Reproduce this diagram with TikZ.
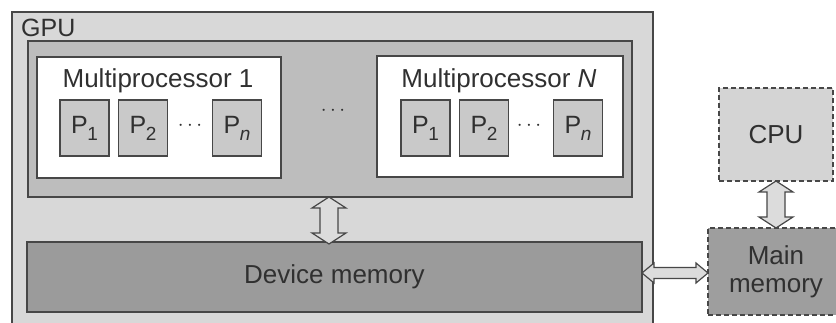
\documentclass[tikz,border=0pt]{standalone}
\usepackage{fontspec}
\setmainfont{Liberation Sans}
\usetikzlibrary{calc}
\definecolor{edge}{HTML}{474747}
\definecolor{txt}{HTML}{303030}
\definecolor{gpubg}{HTML}{D8D8D8}
\definecolor{mpabg}{HTML}{BDBDBD}
\definecolor{pbg}{HTML}{C9C9C9}
\definecolor{devbg}{HTML}{9B9B9B}
\definecolor{cpubg}{HTML}{D4D4D4}
\definecolor{mainbg}{HTML}{9E9E9E}
\definecolor{arrbg}{HTML}{DCDCDC}
\tikzset{
  box/.style={draw=edge, line width=1.4pt, rectangle, inner sep=0pt, outer sep=0pt, text=txt},
  dbox/.style={box, dash pattern=on 5pt off 3pt},
  lbl/.style={inner sep=0pt, text=txt, font=\fontsize{26}{30}\selectfont},
  pbox/.style={box, fill=pbg, minimum width=49pt, minimum height=56pt, font=\fontsize{25}{28}\selectfont},
  dots/.style={inner sep=0pt, text=txt, font=\fontsize{20}{24}\selectfont},
  arrsty/.style={draw=edge, fill=arrbg, line width=1.2pt, line join=miter},
}
\newcommand\Psub[1]{P\kern-0.5pt\raisebox{-7pt}{\fontsize{19}{22}\selectfont #1}}
% vertical double arrow between two points (top tip, bottom tip)
\newcommand\vdarrow[2]{%
  \path[arrsty] let \p1=#1, \p2=#2 in
    (\x1,\y1) -- (\x1+17pt,\y1-11pt) -- (\x1+9pt,\y1-11pt) -- (\x1+9pt,\y2+11pt)
    -- (\x1+17pt,\y2+11pt) -- (\x1,\y2) -- (\x1-17pt,\y2+11pt) -- (\x1-9pt,\y2+11pt)
    -- (\x1-9pt,\y1-11pt) -- (\x1-17pt,\y1-11pt) -- cycle;}
% horizontal double arrow between two points (left tip, right tip)
\newcommand\hdarrow[2]{%
  \path[arrsty] let \p1=#1, \p2=#2 in
    (\x1,\y1) -- (\x1+12pt,\y1+10pt) -- (\x1+12pt,\y1+5.5pt) -- (\x2-12pt,\y1+5.5pt)
    -- (\x2-12pt,\y1+10pt) -- (\x2,\y1) -- (\x2-12pt,\y1-10pt) -- (\x2-12pt,\y1-5.5pt)
    -- (\x1+12pt,\y1-5.5pt) -- (\x1+12pt,\y1-10pt) -- cycle;}
\begin{document}
\begin{tikzpicture}[x=1pt,y=-1pt]
\clip (0,0) rectangle (836,323);
\fill[white] (0,0) rectangle (836,323);
% GPU
\node[box, fill=gpubg, minimum width=641pt, minimum height=330pt] (gpu) at (332.5,177) {};
\node[lbl, anchor=base west, font=\fontsize{25}{30}\selectfont] (gpul) at (21,37) {GPU};
\node[box, fill=mpabg, minimum width=604pt, minimum height=156pt] (mpa) at (330,119) {};
\node[box, fill=white, minimum width=244pt, minimum height=121pt] (mp1) at (159,117.5) {};
\node[box, fill=white, minimum width=246pt, minimum height=121pt] (mpn) at (500,116.5) {};
\node[lbl, anchor=base] (mp1l) at (158,88) {Multiprocessor 1};
\node[lbl, anchor=base] (mpnl) at (499,88) {Multiprocessor \textit{N}};
% processors MP1
\node[pbox] (a1) at (84.5,128) {\Psub{1}};
\node[pbox] (a2) at (143,128) {\Psub{2}};
\node[pbox] (an) at (237,128) {\Psub{\textit{n}}};
\node[dots] (ad) at (190,126) {$\cdots$};
% processors MPN
\node[pbox] (b1) at (425.5,128) {\Psub{1}};
\node[pbox] (b2) at (484,128) {\Psub{2}};
\node[pbox] (bn) at (578,128) {\Psub{\textit{n}}};
\node[dots] (bd) at (529,126) {$\cdots$};
\node[dots] (md) at (333,111) {$\cdots$};
% device memory
\node[box, fill=devbg, minimum width=615pt, minimum height=70pt, font=\fontsize{26}{30}\selectfont] (dev) at (334.5,277) {Device memory};
% CPU and main memory
\node[dbox, fill=cpubg, minimum width=114pt, minimum height=93pt, font=\fontsize{26}{30}\selectfont] (cpu) at (776,134.5) {CPU};
\node[dbox, fill=mainbg, minimum width=136pt, minimum height=87pt, align=center, font=\fontsize{26}{28}\selectfont] (mem) at (776,271.5) {Main\\memory};
% arrows
\coordinate (t1) at ($(mpa.south)+(-1,0)$);
\coordinate (b1) at ($(t1 |- dev.north)+(0,2)$);
\vdarrow{(t1)}{(b1)}
\vdarrow{(cpu.south)}{(mem.north)}
\coordinate (l3) at ($(dev.east |- mem.center)+(0,1.5)$);
\coordinate (r3) at ($(mem.west)+(0,1.5)$);
\hdarrow{(l3)}{(r3)}
\end{tikzpicture}
\end{document}
